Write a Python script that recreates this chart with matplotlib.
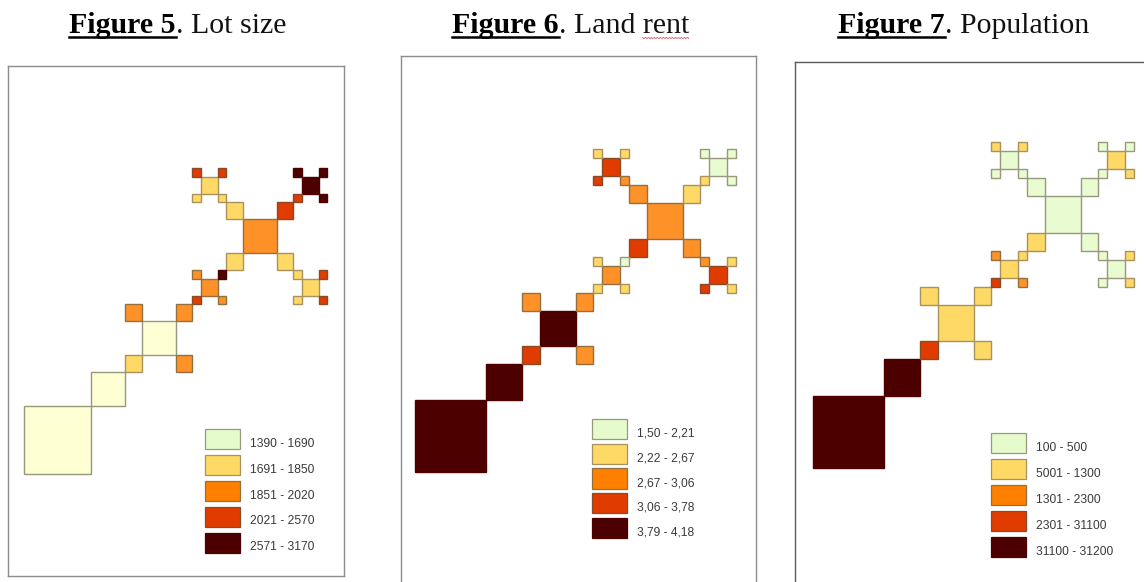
import numpy as np
import matplotlib
matplotlib.use("Agg")
import matplotlib.pyplot as plt
from matplotlib.lines import Line2D
from matplotlib.patches import Patch, Rectangle

# === DATA: colour class (0-4) of every lot ===
# order: big, second, A, A corners, B, B corners, then the 4 small clusters
# (TL, TR, BL, BR), each as centre + corners; corners always go TL, TR, BL, BR
lot_size = [0, 0,
            0, 2, 2, 1, 2,
            2, 1, 3, 1, 1,
            1, 3, 3, 1, 1,
            4, 4, 4, 3, 4,
            2, 2, 4, 3, 2,
            1, 1, 3, 1, 3]
land_rent = [4, 4,
             4, 2, 2, 3, 2,
             2, 2, 1, 3, 2,
             3, 1, 1, 3, 2,
             0, 0, 0, 1, 0,
             2, 1, 0, 1, 1,
             3, 2, 1, 3, 1]
population = [4, 4,
              1, 1, 1, 3, 1,
              0, 0, 0, 1, 0,
              0, 1, 1, 0, 0,
              1, 0, 0, 0, 1,
              1, 2, 1, 3, 2,
              0, 0, 1, 0, 1]

lot_labels = ["1390 - 1690", "1691 - 1850", "1851 - 2020", "2021 - 2570", "2571 - 3170"]
rent_labels = ["1,50 - 2,21", "2,22 - 2,67", "2,67 - 3,06", "3,06 - 3,78", "3,79 - 4,18"]
pop_labels = ["100 - 500", "5001 - 1300", "1301 - 2300", "2301 - 31100", "31100 - 31200"]

map_colors = ["#E9FBD0", "#FFD966", "#FF9129", "#E03C00", "#4D0000"]
legend_colors = ["#E6FBCC", "#FFD966", "#FF8000", "#E03C00", "#4D0000"]
edge_colors = ["#98987C", "#A8925E", "#94703C", "#8A4A28", "#4D0000"]

W, H = 1144, 582
fig = plt.figure(figsize=(W / 100, H / 100), dpi=100)
plt.rcParams['font.family'] = ['Liberation Sans', 'DejaVu Sans']


# === Layout of the city, in grid units (smallest lot = 1) ===
def corners(x, y, s):
    c = s / 2
    return [(x - c, y + s, c), (x + s, y + s, c), (x - c, y - c, c), (x + s, y - c, c)]


def lot_layout():
    lots = [(0, 0, 8), (8, 8, 4)]
    for x in (14, 26):
        lots.append((x, x, 4))
        lots += corners(x, x, 4)
    for dx, dy in [(-5, 7), (7, 7), (-5, -5), (7, -5)]:
        cx, cy = 26 + dx, 26 + dy
        lots.append((cx, cy, 2))
        lots += corners(cx, cy, 2)
    return lots


def draw_panel(frame, origin, scale, classes, labels, legend_xy, gap, lightest=None, spine="#8C8C8C"):
    # frame = left, top, right, bottom in pixels of the figure
    left, top, right, bottom = frame
    ax = fig.add_axes([left / W, 1 - bottom / H, (right - left) / W, (bottom - top) / H])
    ax.set_xlim((left - origin[0]) / scale[0], (right - origin[0]) / scale[0])
    ax.set_ylim((origin[1] - bottom) / scale[1], (origin[1] - top) / scale[1])
    ax.set_xticks([])
    ax.set_yticks([])
    for s in ax.spines.values():
        s.set_color(spine)
        s.set_linewidth(1.0)

    fills = list(map_colors)
    if lightest:
        fills[0] = lightest
    for (x, y, size), c in zip(lot_layout(), classes):
        ax.add_patch(Rectangle((x, y), size, size, facecolor=fills[c],
                               edgecolor=edge_colors[c], linewidth=1.0))

    handles = [Patch(facecolor=legend_colors[i], edgecolor=edge_colors[i], linewidth=0.9)
               for i in range(5)]
    leg = ax.legend(handles, labels, loc="upper left",
                    bbox_to_anchor=((legend_xy[0] - left) / (right - left),
                                    1 - (legend_xy[1] - top) / (bottom - top)),
                    frameon=False, fontsize=8.65, labelcolor="#3A3A3A",
                    borderpad=0, borderaxespad=0, handlelength=2.9, handleheight=2.2,
                    handletextpad=0.83, labelspacing=gap)
    # labels sit a little below the middle of the swatch
    for t in leg.get_texts():
        t.set_y(-4)
    return ax


draw_panel((8, 66, 343.5, 576), (24, 474), (8.42, 8.5), lot_size, lot_labels, (205, 429), 0.48,
           lightest="#FFFFD4")
draw_panel((400.5, 56, 756, 590), (415, 472), (8.92, 8.97), land_rent, rent_labels, (592, 419), 0.38)
draw_panel((794.5, 62, 1160, 590), (813, 468), (8.92, 9.05), population, pop_labels, (991, 433), 0.49,
           spine="#5A5A5A")

# === Titles: bold underlined part, then regular part ===
renderer = fig.canvas.get_renderer()
title_serif = ['Liberation Serif', 'DejaVu Serif']


def draw_title(x, bold_part, rest):
    t1 = fig.text(x / W, 1 - 33 / H, bold_part, family=title_serif, fontsize=21.5,
                  fontweight="bold", color="black", va="baseline")
    box = t1.get_window_extent(renderer)
    t2 = fig.text((box.x1 + 0.5) / W, 1 - 33 / H, rest, family=title_serif, fontsize=21.5,
                  color="#111111", va="baseline")
    fig.add_artist(Line2D([box.x0 / W, box.x1 / W], [1 - 37 / H] * 2, color="black", linewidth=1.8))
    return t2


draw_title(69, "Figure 5", ". Lot size")
rent_title = draw_title(452, "Figure 6", ". Land rent")
draw_title(838, "Figure 7", ". Population")

# spell-check squiggle under "rent"
end = rent_title.get_window_extent(renderer).x1
sq_x = np.arange(end - 47, end, 1.5)
sq_y = 1 - (37.5 + 1.0 * (np.arange(len(sq_x)) % 2)) / H
fig.add_artist(Line2D(sq_x / W, sq_y, color="#D85050", linewidth=0.6))

fig.savefig("out.png", dpi=100)
